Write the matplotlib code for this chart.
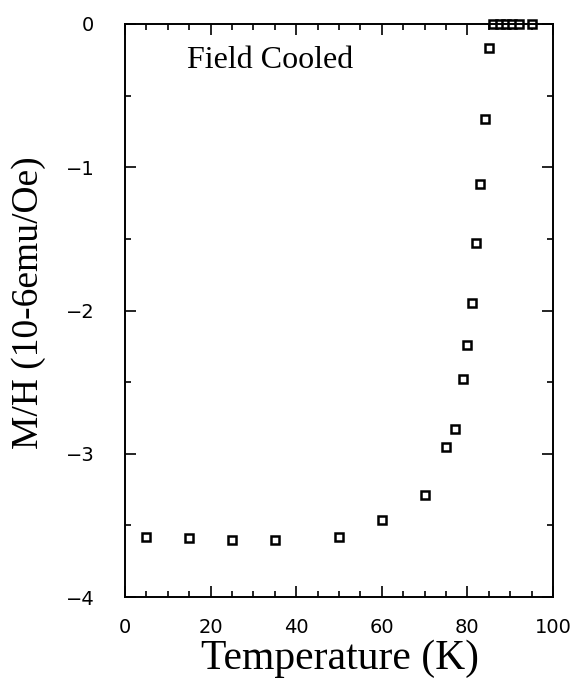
import matplotlib
matplotlib.use("Agg")
import matplotlib.pyplot as plt
from matplotlib.ticker import MultipleLocator

temperature = [5, 15, 25, 35, 50, 60, 70, 75, 77, 79, 80, 81, 82, 83, 84, 85,
               86, 87.5, 89, 90.5, 92, 95]
mh = [-3.58, -3.59, -3.60, -3.60, -3.58, -3.46, -3.29, -2.95, -2.83, -2.48, -2.24,
      -1.95, -1.53, -1.12, -0.66, -0.17, 0.0, 0.0, 0.0, 0.0, 0.0, 0.0]

fig = plt.figure(figsize=(5.84, 6.81), dpi=100)
ax = fig.add_axes([0.214, 0.1233, 0.733, 0.8415])

ax.plot(temperature, mh, linestyle='none', marker='s', markersize=6,
        markerfacecolor='white', markeredgecolor='black', markeredgewidth=1.8,
        clip_on=False)

ax.set_xlim(0, 100)
ax.set_ylim(-4, 0)
ax.xaxis.set_major_locator(MultipleLocator(20))
ax.xaxis.set_minor_locator(MultipleLocator(5))
ax.yaxis.set_major_locator(MultipleLocator(1))
ax.yaxis.set_minor_locator(MultipleLocator(0.5))
ax.tick_params(which='both', direction='in', top=True, right=True, width=1.2,
               labelsize=14)
ax.tick_params(axis='x', which='both', pad=15)
ax.tick_params(axis='y', which='both', pad=22)
ax.tick_params(which='major', length=8)
ax.tick_params(which='minor', length=4)
for lab in ax.get_xticklabels() + ax.get_yticklabels():
    lab.set_family('DejaVu Sans')
for s in ax.spines.values():
    s.set_linewidth(1.4)

fig.text(340 / 584, 12 / 681, 'Temperature (K)', fontsize=30,
         family='Liberation Serif', ha='center', va='baseline')
fig.text(29 / 584, 1 - 303 / 681, 'M/H (10-6emu/Oe)', fontsize=27,
         family='Liberation Serif', ha='center', va='center', rotation=90)
ax.text(0.145, 0.923, 'Field Cooled', transform=ax.transAxes, fontsize=23,
        family='Liberation Serif', va='baseline', ha='left')

fig.savefig('out.png', dpi=100)
